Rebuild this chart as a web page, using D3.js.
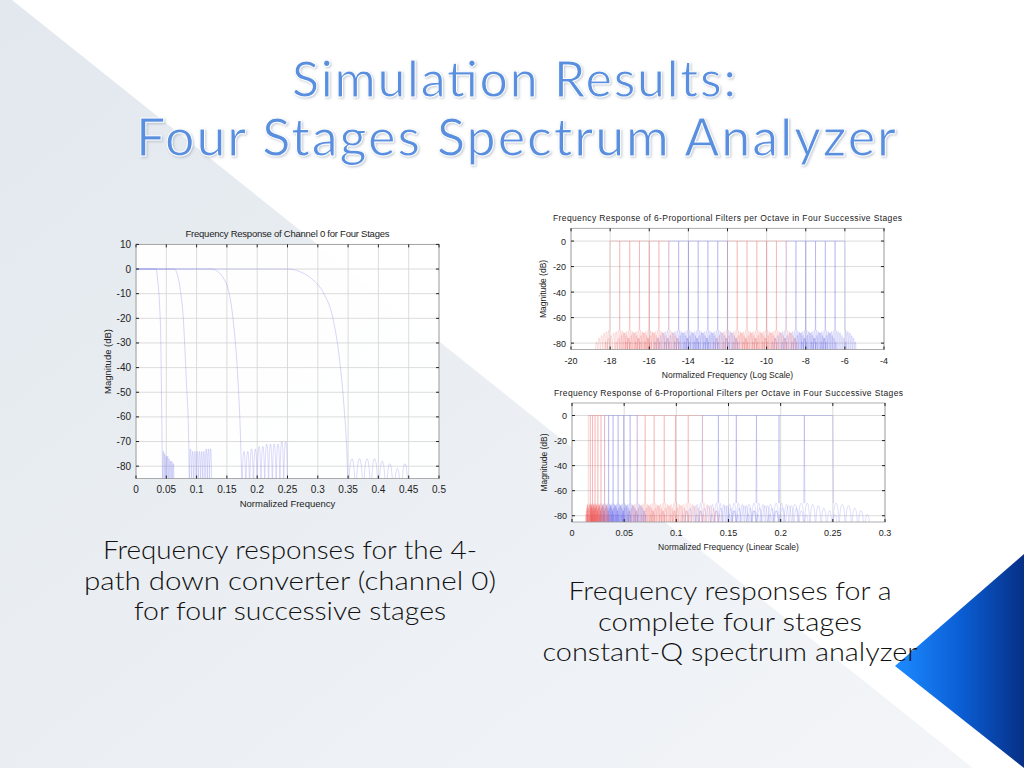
<!DOCTYPE html>
<html><head><meta charset="utf-8">
<script src="https://cdn.jsdelivr.net/npm/d3@7"></script>
<style>body{margin:0;overflow:hidden;background:#fff}</style>
</head><body>
<svg id="s" width="1024" height="768"></svg>
<script>
// ---------- DATA ----------
const titleLines = ["Simulation Results:", "Four Stages Spectrum Analyzer"];
const captionLeft = ["Frequency responses for the 4-", "path down converter (channel 0)", "for four successive stages"];
const captionRight = ["Frequency responses for a", "complete four stages", "constant-Q spectrum analyzer"];

// Chart 1: channel 0 response, four stages
const c1XTicks = [0,0.05,0.1,0.15,0.2,0.25,0.3,0.35,0.4,0.45,0.5];
const c1YTicks = [10,0,-10,-20,-30,-40,-50,-60,-70,-80];
const stage1Edge = [[0,0],[0.25,0],[0.27,-1],[0.29,-4],[0.31,-10],[0.325,-20],[0.335,-35],[0.343,-55],[0.348,-75],[0.35,-90]];
const stage2Edge = [[0,0],[0.125,0],[0.135,-1],[0.145,-4],[0.152,-8],[0.16,-20],[0.167,-40],[0.172,-65],[0.175,-90]];
const stage3Edge = [[0,0],[0.063,0],[0.068,-2],[0.074,-10],[0.078,-20],[0.083,-45],[0.087,-70],[0.088,-90]];
const stage4Edge = [[0,0],[0.033,0],[0.036,-5],[0.039,-15],[0.041,-30],[0.0425,-60],[0.044,-90]];
const stage1Lobes = {start:0.35, end:0.45, peaks:[-77,-77,-77,-77,-78,-79,-81,-79]};
const stage2Lobes = {start:0.175, end:0.25, peaks:[-74,-74,-73,-73,-72,-72,-71,-71,-71,-71,-70,-70]};
const stage3Lobes = {start:0.088, end:0.125, peaks:[-73,-74,-74,-74,-74,-74,-74,-73,-73,-73]};
const stage4Lobes = {start:0.044, end:0.063, peaks:[-74,-75,-76,-76,-77,-78,-78,-79]};

// Charts 2/3: 6 filters per octave, band edges (normalized frequency) per stage
const stageA_blue = [0.25,0.2227,0.1984,0.1768,0.1575,0.1403,0.125];
const stageB_red  = [0.125,0.1114,0.0992,0.0884,0.0787,0.0701,0.0625];
const stageC_blue = [0.0625,0.0557,0.0496,0.0442,0.0394,0.0351,0.03125];
const stageD_red  = [0.03125,0.0278,0.0248,0.0221,0.0197,0.0175,0.0156];
const sideLobePeaks = [-70,-71,-72,-74,-76,-79];
const c2XTicks = [-20,-18,-16,-14,-12,-10,-8,-6,-4];
const c2YTicks = [0,-20,-40,-60,-80];
const c3XTicks = [0,0.05,0.1,0.15,0.2,0.25,0.3];
const c3YTicks = [0,-20,-40,-60,-80];

// ---------- BACKGROUND ----------
const svg = d3.select("#s");
const defs = svg.append("defs");
const bg = defs.append("linearGradient").attr("id","bgg").attr("x1","0").attr("y1","0").attr("x2","1").attr("y2","1");
bg.append("stop").attr("offset","0").attr("stop-color","#e2e8ee");
bg.append("stop").attr("offset","1").attr("stop-color","#f4f6f9");
svg.append("rect").attr("width",1024).attr("height",768).attr("fill","#fff");
svg.append("path").attr("d","M0,0 L12,0 L1024,809 L1024,768 L0,768 Z").attr("fill","url(#bgg)");
const bl = defs.append("linearGradient").attr("id","blg").attr("x1","0").attr("y1","0").attr("x2","1").attr("y2","0");
bl.append("stop").attr("offset","0").attr("stop-color","#1d8bff");
bl.append("stop").attr("offset","0.5").attr("stop-color","#0b5fd6");
bl.append("stop").attr("offset","1").attr("stop-color","#062f86");
svg.append("path").attr("d","M1024,554 L895,666 L1024,768 Z").attr("fill","url(#blg)");

// Title
const tf = defs.append("filter").attr("id","sh");
tf.append("feDropShadow").attr("dx",1.2).attr("dy",1.2).attr("stdDeviation",0.8).attr("flood-color","#8d9aab").attr("flood-opacity",0.5);
svg.selectAll("text.title").data(titleLines).join("text")
  .attr("x",(d,i)=> i===0?514:516).attr("y",(d,i)=> i===0?97:156)
  .attr("text-anchor","middle").attr("font-family","Lato, 'Open Sans', sans-serif")
  .attr("font-size",(d,i)=> i===0?50:52).attr("fill","#5a8fe0").attr("stroke","#fff").attr("stroke-width",1)
  .attr("filter","url(#sh)").attr("textLength",(d,i)=> i===0?444:760).text(d=>d);

// Captions
function caption(lines, widths, cx, y0, dy){
  svg.selectAll(null).data(lines).join("text").attr("x",cx).attr("y",(d,i)=>y0+i*dy)
    .attr("text-anchor","middle").attr("font-family","Lato, 'Open Sans', sans-serif").attr("font-weight",300)
    .attr("font-size",25).attr("fill","#111").attr("textLength",(d,i)=>widths[i]).attr("lengthAdjust","spacingAndGlyphs").text(d=>d);
}
caption(captionLeft, [374,412,312], 290, 559, 30.5);
caption(captionRight, [323,264,375], 730, 600, 30.5);

// ---------- CHART HELPERS ----------
const FONT = "'Liberation Sans Narrow','Liberation Sans',Arial,sans-serif";
function frame(g, x, y, xt, yt, fmtX, title, xlab, ylab, fs, tw){
  const [x0,x1] = x.range(), [y1,y0] = y.range();
  g.append("rect").attr("x",x0).attr("y",y0).attr("width",x1-x0).attr("height",y1-y0).attr("fill","#fff").attr("fill-opacity",0.95);
  g.selectAll(null).data(xt).join("line").attr("x1",d=>x(d)).attr("x2",d=>x(d)).attr("y1",y0).attr("y2",y1).attr("stroke","#d3d3d3").attr("stroke-width",0.8);
  g.selectAll(null).data(yt).join("line").attr("y1",d=>y(d)).attr("y2",d=>y(d)).attr("x1",x0).attr("x2",x1).attr("stroke","#d3d3d3").attr("stroke-width",0.8);
  return ()=>{
    g.append("rect").attr("x",x0).attr("y",y0).attr("width",x1-x0).attr("height",y1-y0).attr("fill","none").attr("stroke","#9a9a9a").attr("stroke-width",0.8);
    g.selectAll(null).data(xt).join("path").attr("d",d=>`M${x(d)},${y0}v3M${x(d)},${y1}v-3`).attr("stroke","#222").attr("stroke-width",1);
    g.selectAll(null).data(yt).join("path").attr("d",d=>`M${x0},${y(d)}h3M${x1},${y(d)}h-3`).attr("stroke","#222").attr("stroke-width",1);
    g.selectAll(null).data(xt).join("text").attr("x",d=>x(d)).attr("y",y1+14).attr("text-anchor","middle")
      .attr("font-family",FONT).attr("font-size",fs).attr("fill","#222").text(fmtX);
    g.selectAll(null).data(yt).join("text").attr("x",x0-5).attr("y",d=>y(d)+3.5).attr("text-anchor","end")
      .attr("font-family",FONT).attr("font-size",fs).attr("fill","#222").text(d=>d);
    g.append("text").attr("x",(x0+x1)/2).attr("y",y0-7).attr("text-anchor","middle").attr("font-family",FONT).attr("font-size",fs-0.5).attr("fill","#222").attr("textLength",tw).text(title);
    g.append("text").attr("x",(x0+x1)/2).attr("y",y1+28).attr("text-anchor","middle").attr("font-family",FONT).attr("font-size",fs-0.5).attr("fill","#222").text(xlab);
    g.append("text").attr("transform",`translate(${x0-25},${(y0+y1)/2}) rotate(-90)`).attr("text-anchor","middle").attr("font-family",FONT).attr("font-size",fs-0.5).attr("fill","#222").text(ylab);
  };
}
let clipN=0;
function clip(g,x,y){
  const id="c"+(clipN++); const [x0,x1]=x.range(),[y1,y0]=y.range();
  defs.append("clipPath").attr("id",id).append("rect").attr("x",x0).attr("y",y0).attr("width",x1-x0).attr("height",y1-y0);
  return g.append("g").attr("clip-path",`url(#${id})`);
}
// arch shape between two nulls
function arch(a,b,peak,n){ const pts=[]; for(let k=0;k<=n;k++){const t=k/n; const s=Math.sin(Math.PI*t); pts.push([a+(b-a)*t, s<1e-3?-120:peak+20*Math.log10(s)]);} return pts; }

// ---------- CHART 1 ----------
{
  const g = svg.append("g");
  const x = d3.scaleLinear().domain([0,0.5]).range([136,439]);
  const y = d3.scaleLinear().domain([-85,10]).range([478.5,244.4]);
  const fin = frame(g,x,y,c1XTicks,c1YTicks,d=>String(d),"Frequency Response of Channel 0 for Four Stages","Normalized Frequency","Magnitude (dB)",10,204);
  const cg = clip(g,x,y);
  const line = d3.line().x(d=>x(d[0])).y(d=>y(Math.max(d[1],-100))).curve(d3.curveMonotoneX);
  const col = "rgba(120,120,235,0.5)";
  [[stage1Edge,stage1Lobes],[stage2Edge,stage2Lobes],[stage3Edge,stage3Lobes],[stage4Edge,stage4Lobes]].forEach(([e,l])=>{
    cg.append("path").attr("d",line(e)).attr("fill","none").attr("stroke",col).attr("stroke-width",0.6);
    const w=(l.end-l.start)/l.peaks.length;
    l.peaks.forEach((p,i)=>{
      cg.append("path").attr("d",d3.line().x(d=>x(d[0])).y(d=>y(Math.max(d[1],-100)))(arch(l.start+i*w,l.start+(i+1)*w,p,24)))
        .attr("fill","none").attr("stroke",col).attr("stroke-width",0.5);
    });
  });
  fin();
}

// ---------- CHARTS 2 & 3 ----------
const stages = [[stageA_blue,"rgba(80,80,235,0.4)"],[stageB_red,"rgba(240,80,80,0.4)"],[stageC_blue,"rgba(80,80,235,0.4)"],[stageD_red,"rgba(240,80,80,0.4)"]];
function filterBank(cg, xf, y){
  const ln = d3.line().x(d=>xf(d[0])).y(d=>y(Math.max(d[1],-100)));
  stages.forEach(([edges,col])=>{
    for(let i=0;i<edges.length-1;i++){
      const hi=edges[i], lo=edges[i+1], bw=hi-lo;
      cg.append("path").attr("d",ln([[lo-bw*0.02,-70],[lo,0],[hi,0],[hi+bw*0.02,-70]])).attr("fill","none").attr("stroke",col).attr("stroke-width",0.6);
      const w=bw*0.22;
      sideLobePeaks.forEach((p,k)=>{
        cg.append("path").attr("d",ln(arch(hi+k*w,hi+(k+1)*w,p,16))).attr("fill","none").attr("stroke",col).attr("stroke-width",0.45);
        cg.append("path").attr("d",ln(arch(lo-(k+1)*w,lo-k*w,p,16))).attr("fill","none").attr("stroke",col).attr("stroke-width",0.45);
      });
    }
  });
}
{
  const g = svg.append("g");
  const x = d3.scaleLinear().domain([-20,-4]).range([571,884]);
  const y = d3.scaleLinear().domain([-85,10]).range([349.5,228.3]);
  const fin = frame(g,x,y,c2XTicks,c2YTicks,d=>String(d),"Frequency Response of 6-Proportional Filters per Octave in Four Successive Stages","Normalized Frequency (Log Scale)","Magnitude (dB)",9,349);
  const cg = clip(g,x,y);
  filterBank(cg, f=>x(3*Math.log2(f)), y);
  fin();
}
{
  const g = svg.append("g");
  const x = d3.scaleLinear().domain([0,0.3]).range([572,885]);
  const y = d3.scaleLinear().domain([-85,10]).range([522,403]);
  const fin = frame(g,x,y,c3XTicks,c3YTicks,d=>String(d),"Frequency Response of 6-Proportional Filters per Octave in Four Successive Stages","Normalized Frequency (Linear Scale)","Magnitude (dB)",9,349);
  const cg = clip(g,x,y);
  filterBank(cg, f=>x(f), y);
  fin();
}
</script>
</body></html>
